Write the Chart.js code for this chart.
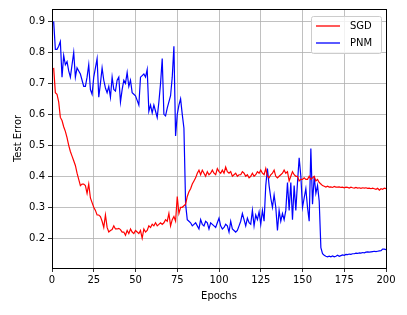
<!DOCTYPE html>
<html>
<head>
<meta charset="utf-8">
<script src="https://cdn.jsdelivr.net/npm/chart.js@4.4.1/dist/chart.umd.min.js"></script>
<style>
  html, body { margin: 0; padding: 0; background: #fff; }
  #wrap { width: 407px; height: 315px; }
</style>
</head>
<body>
<div id="wrap"><canvas id="chart" width="407" height="315"></canvas></div>
<script>
const seriesNames = ['SGD', 'PNM'];
const seriesColors = ['#ff0000', '#0000ff'];
const xTicks = [0, 25, 50, 75, 100, 125, 150, 175, 200];
const yTicks = [0.2, 0.3, 0.4, 0.5, 0.6, 0.7, 0.8, 0.9];

// test error per epoch (epochs 1..200)
const sgd = [
  0.75, 0.67, 0.665, 0.64, 0.59, 0.58, 0.56, 0.545, 0.525, 0.50,
  0.48, 0.465, 0.45, 0.435, 0.41, 0.39, 0.37, 0.375, 0.375, 0.37,
  0.345, 0.375, 0.33, 0.315, 0.30, 0.29, 0.275, 0.275, 0.27, 0.255,
  0.235, 0.275, 0.235, 0.22, 0.225, 0.228, 0.24, 0.23, 0.23, 0.232,
  0.228, 0.22, 0.22, 0.21, 0.225, 0.215, 0.23, 0.22, 0.215, 0.225,
  0.22, 0.215, 0.225, 0.20, 0.23, 0.22, 0.225, 0.24, 0.235, 0.245,
  0.24, 0.25, 0.24, 0.245, 0.25, 0.245, 0.25, 0.26, 0.255, 0.28,
  0.24, 0.26, 0.27, 0.255, 0.335, 0.28, 0.30, 0.30, 0.305, 0.31,
  0.335, 0.35, 0.36, 0.375, 0.385, 0.395, 0.41, 0.42, 0.405, 0.42,
  0.41, 0.40, 0.415, 0.405, 0.41, 0.42, 0.41, 0.405, 0.425, 0.415,
  0.41, 0.42, 0.41, 0.43, 0.415, 0.41, 0.415, 0.40, 0.405, 0.41,
  0.40, 0.405, 0.405, 0.415, 0.41, 0.40, 0.405, 0.395, 0.40, 0.41,
  0.40, 0.405, 0.415, 0.41, 0.42, 0.41, 0.405, 0.425, 0.40, 0.395,
  0.405, 0.41, 0.42, 0.40, 0.395, 0.40, 0.405, 0.41, 0.42, 0.41,
  0.415, 0.385, 0.40, 0.415, 0.405, 0.40, 0.40, 0.385, 0.39, 0.39,
  0.395, 0.39, 0.39, 0.40, 0.39, 0.395, 0.40, 0.385, 0.39, 0.38,
  0.375, 0.37, 0.368, 0.365, 0.368, 0.365, 0.366, 0.364, 0.367, 0.365,
  0.365, 0.366, 0.364, 0.365, 0.363, 0.365, 0.364, 0.362, 0.365, 0.363,
  0.362, 0.364, 0.362, 0.363, 0.361, 0.363, 0.362, 0.363, 0.361, 0.362,
  0.36, 0.362, 0.36, 0.358, 0.361, 0.355, 0.36, 0.358, 0.362, 0.36
];
const pnm = [
  0.90, 0.81, 0.81, 0.82, 0.835, 0.72, 0.79, 0.76, 0.77, 0.74,
  0.72, 0.76, 0.80, 0.72, 0.75, 0.74, 0.73, 0.71, 0.69, 0.69,
  0.72, 0.76, 0.68, 0.665, 0.72, 0.75, 0.78, 0.655, 0.70, 0.75,
  0.71, 0.685, 0.67, 0.69, 0.655, 0.72, 0.68, 0.675, 0.71, 0.72,
  0.64, 0.68, 0.71, 0.70, 0.735, 0.69, 0.71, 0.67, 0.665, 0.66,
  0.645, 0.63, 0.72, 0.725, 0.73, 0.72, 0.745, 0.61, 0.63, 0.605,
  0.63, 0.61, 0.59, 0.64, 0.70, 0.78, 0.60, 0.595, 0.62, 0.64,
  0.66, 0.72, 0.82, 0.53, 0.60, 0.63, 0.65, 0.60, 0.555, 0.31,
  0.26, 0.255, 0.25, 0.24, 0.245, 0.25, 0.24, 0.23, 0.26, 0.245,
  0.24, 0.255, 0.25, 0.23, 0.25, 0.245, 0.24, 0.235, 0.25, 0.265,
  0.24, 0.23, 0.235, 0.245, 0.24, 0.22, 0.255, 0.23, 0.225, 0.22,
  0.225, 0.24, 0.255, 0.28, 0.26, 0.24, 0.265, 0.25, 0.245, 0.29,
  0.24, 0.275, 0.26, 0.285, 0.245, 0.29, 0.255, 0.37, 0.425, 0.37,
  0.33, 0.30, 0.34, 0.30, 0.225, 0.29, 0.255, 0.28, 0.26, 0.29,
  0.38, 0.29, 0.38, 0.26, 0.37, 0.29, 0.38, 0.46, 0.40, 0.30,
  0.33, 0.36, 0.30, 0.255, 0.49, 0.31, 0.40, 0.345, 0.37, 0.32,
  0.17, 0.15, 0.145, 0.142, 0.14, 0.142, 0.14, 0.143, 0.14, 0.142,
  0.145, 0.142, 0.144, 0.146, 0.145, 0.148, 0.147, 0.149, 0.148, 0.15,
  0.15, 0.152, 0.151, 0.153, 0.152, 0.154, 0.153, 0.155, 0.156, 0.155,
  0.156, 0.157, 0.158, 0.157, 0.158, 0.159, 0.16, 0.165, 0.165, 0.163
];

const toPoints = arr => arr.map((v, i) => ({ x: i + 1, y: v }));

// matplotlib-like frame around the plot + legend box in the upper right
const framePlugin = {
  id: 'frame',
  afterDatasetsDraw(chart) {
    const { ctx, chartArea: a } = chart;
    ctx.save();
    ctx.strokeStyle = '#000';
    ctx.lineWidth = 1;
    ctx.strokeRect(Math.round(a.left) + 0.5, Math.round(a.top) + 0.5,
      Math.round(a.right - a.left), Math.round(a.bottom - a.top));

    // legend
    const bx = a.right - 75, by = a.top + 7, bw = 70, bh = 37;
    ctx.fillStyle = 'rgba(255,255,255,0.8)';
    ctx.strokeStyle = '#cccccc';
    ctx.beginPath();
    ctx.roundRect(bx + 0.5, by + 0.5, bw, bh, 2);
    ctx.fill();
    ctx.stroke();
    ctx.font = '10px "DejaVu Sans"';
    ctx.textBaseline = 'middle';
    chart.data.datasets.forEach((ds, i) => {
      const y = by + 10 + i * 17;
      ctx.strokeStyle = ds.borderColor;
      ctx.lineWidth = 1.3;
      ctx.beginPath();
      ctx.moveTo(bx + 5, y);
      ctx.lineTo(bx + 29, y);
      ctx.stroke();
      ctx.fillStyle = '#000';
      ctx.fillText(ds.label, bx + 39, y);
    });
    ctx.restore();
  }
};

new Chart(document.getElementById('chart'), {
  type: 'line',
  data: {
    datasets: [
      { label: seriesNames[0], data: toPoints(sgd), borderColor: seriesColors[0] },
      { label: seriesNames[1], data: toPoints(pnm), borderColor: seriesColors[1] }
    ]
  },
  options: {
    responsive: false,
    animation: false,
    layout: { padding: { top: 8, right: 21, left: 8, bottom: 9 } },
    elements: {
      point: { radius: 0 },
      line: { borderWidth: 1.2, tension: 0 }
    },
    plugins: {
      legend: { display: false },
      tooltip: { enabled: false }
    },
    scales: {
      x: {
        type: 'linear',
        min: 0,
        max: 200,
        afterBuildTicks: s => { s.ticks = xTicks.map(v => ({ value: v })); },
        afterFit: s => { s.height = 38; },
        grid: { color: '#b0b0b0', lineWidth: 0.8, tickColor: '#000', tickLength: 4 },
        border: { color: '#000' },
        ticks: { color: '#000', font: { family: 'DejaVu Sans', size: 10 }, padding: 2, maxRotation: 0 },
        title: { display: true, text: 'Epochs', color: '#000', font: { family: 'DejaVu Sans', size: 10 }, padding: { top: 2 } }
      },
      y: {
        type: 'linear',
        min: 0.104,
        max: 0.94,
        afterBuildTicks: s => { s.ticks = yTicks.map(v => ({ value: v })); },
        afterFit: s => { s.width = 44; },
        grid: { color: '#b0b0b0', lineWidth: 0.8, tickColor: '#000', tickLength: 4 },
        border: { color: '#000' },
        ticks: { color: '#000', font: { family: 'DejaVu Sans', size: 10 }, padding: 3, callback: v => v.toFixed(1) },
        title: { display: true, text: 'Test Error', color: '#000', font: { family: 'DejaVu Sans', size: 10 }, padding: { bottom: 2 } }
      }
    }
  },
  plugins: [framePlugin]
});
</script>
</body>
</html>
